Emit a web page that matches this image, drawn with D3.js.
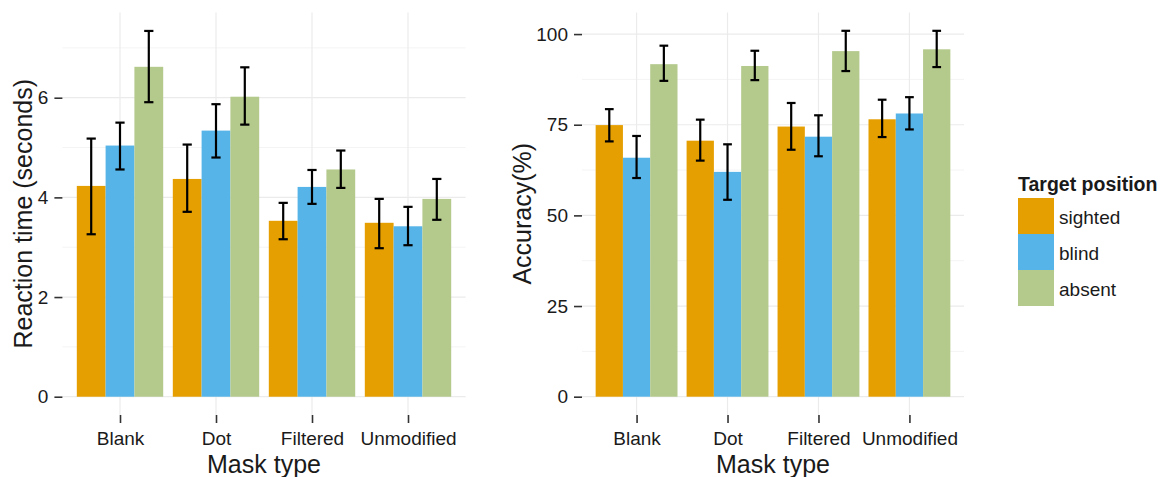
<!DOCTYPE html>
<html>
<head>
<meta charset="utf-8">
<script src="https://cdn.jsdelivr.net/npm/d3@7"></script>
<style>
  html, body { margin: 0; padding: 0; background: #fff; }
  svg { display: block; font-family: "Liberation Sans", Arial, sans-serif; }
</style>
</head>
<body>
<svg id="chart" width="1169" height="477"></svg>
<script>
// Mask types on the x axis and target positions as grouped series
const maskTypes = ["Blank", "Dot", "Filtered", "Unmodified"];
const positions = ["sighted", "blind", "absent"];
const positionColors = ["#E69F00", "#56B4E9", "#B4C98C"];

// Reaction time (seconds): means and error-bar bounds, per position, per mask type
const rtMean  = { sighted: [4.23, 4.37, 3.53, 3.49], blind: [5.04, 5.34, 4.21, 3.42], absent: [6.62, 6.02, 4.56, 3.97] };
const rtLow   = { sighted: [3.26, 3.71, 3.16, 2.98], blind: [4.56, 4.80, 3.87, 3.04], absent: [5.91, 5.46, 4.19, 3.55] };
const rtHigh  = { sighted: [5.18, 5.06, 3.89, 3.97], blind: [5.50, 5.87, 4.55, 3.81], absent: [7.34, 6.61, 4.94, 4.37] };
const rtTicks = [0, 2, 4, 6];

// Accuracy (%): means and error-bar bounds
const accMean = { sighted: [74.9, 70.6, 74.5, 76.5], blind: [65.9, 62.0, 71.7, 78.1], absent: [91.7, 91.2, 95.3, 95.8] };
const accLow  = { sighted: [70.4, 65.1, 68.1, 71.6], blind: [60.3, 54.3, 66.3, 73.7], absent: [87.1, 87.3, 89.8, 90.9] };
const accHigh = { sighted: [79.3, 76.4, 81.0, 81.9], blind: [71.9, 69.6, 77.6, 82.6], absent: [96.8, 95.4, 100.9, 100.9] };
const accTicks = [0, 25, 50, 75, 100];

const svg = d3.select("#chart");
const gridMajor = "#ebebeb", gridMinor = "#f4f4f4", ink = "#1a1a1a";

function panel(opts) {
  const { left, right, top, bottom, domain, ticks, minor, mean, low, high, title, titleX } = opts;
  const g = svg.append("g");

  // discrete x with ggplot-style 0.6 expansion on each side
  const n = maskTypes.length;
  const step = (right - left) / (n - 1 + 1.2);
  const x = d3.scalePoint().domain(maskTypes).range([left + 0.6 * step, right - 0.6 * step]);
  const dodge = d3.scaleBand().domain(positions).range([-0.45 * step, 0.45 * step]);
  const y = d3.scaleLinear().domain(domain).range([bottom, top]);

  // grid
  g.selectAll(".minor").data(minor).join("line")
    .attr("x1", left).attr("x2", right)
    .attr("y1", d => y(d)).attr("y2", d => y(d))
    .attr("stroke", gridMinor).attr("stroke-width", 1);
  g.selectAll(".major").data(ticks).join("line")
    .attr("x1", left).attr("x2", right)
    .attr("y1", d => y(d)).attr("y2", d => y(d))
    .attr("stroke", gridMajor).attr("stroke-width", 1.2);
  g.selectAll(".vgrid").data(maskTypes).join("line")
    .attr("x1", d => x(d)).attr("x2", d => x(d))
    .attr("y1", top).attr("y2", bottom)
    .attr("stroke", gridMajor).attr("stroke-width", 1.2);

  // bars
  const rows = [];
  positions.forEach((p, pi) => maskTypes.forEach((m, mi) => rows.push({
    m, p, pi, v: mean[p][mi], lo: low[p][mi], hi: high[p][mi]
  })));
  g.selectAll(".bar").data(rows).join("rect")
    .attr("x", d => x(d.m) + dodge(d.p))
    .attr("width", dodge.bandwidth())
    .attr("y", d => y(d.v))
    .attr("height", d => y(0) - y(d.v))
    .attr("fill", d => positionColors[d.pi]);

  // error bars
  const capHalf = dodge.bandwidth() * 0.16;
  const eb = g.selectAll(".eb").data(rows).join("g")
    .attr("transform", d => `translate(${x(d.m) + dodge(d.p) + dodge.bandwidth() / 2},0)`);
  eb.append("line").attr("x1", 0).attr("x2", 0)
    .attr("y1", d => y(d.lo)).attr("y2", d => y(d.hi))
    .attr("stroke", "#000").attr("stroke-width", 2.2);
  eb.append("line").attr("x1", -capHalf).attr("x2", capHalf)
    .attr("y1", d => y(d.hi)).attr("y2", d => y(d.hi))
    .attr("stroke", "#000").attr("stroke-width", 2.2);
  eb.append("line").attr("x1", -capHalf).attr("x2", capHalf)
    .attr("y1", d => y(d.lo)).attr("y2", d => y(d.lo))
    .attr("stroke", "#000").attr("stroke-width", 2.2);

  // y axis
  const ya = g.append("g").attr("transform", `translate(${left},0)`)
    .call(d3.axisLeft(y).tickValues(ticks).tickSize(8).tickPadding(6));
  ya.select(".domain").remove();
  ya.selectAll(".tick line").attr("stroke", "#333").attr("stroke-width", 1.6);
  ya.selectAll(".tick text").attr("fill", ink).style("font-size", "19px")
    .style("font-family", "'Liberation Sans', Arial, sans-serif");

  // x axis
  const xa = g.append("g").attr("transform", `translate(0,${bottom})`)
    .call(d3.axisBottom(x).tickSize(8).tickPadding(9));
  xa.select(".domain").remove();
  xa.selectAll(".tick line").attr("stroke", "#333").attr("stroke-width", 1.6);
  xa.selectAll(".tick text").attr("fill", ink).style("font-size", "19px")
    .style("font-family", "'Liberation Sans', Arial, sans-serif");

  // titles
  g.append("text").attr("x", (left + right) / 2).attr("y", 473)
    .attr("text-anchor", "middle").attr("fill", ink).style("font-size", "25px")
    .text("Mask type");
  g.append("text")
    .attr("transform", `translate(${titleX},${(top + bottom) / 2}) rotate(-90)`)
    .attr("text-anchor", "middle").attr("fill", ink).style("font-size", "25px")
    .text(title);
}

panel({
  left: 62.4, right: 465.6, top: 12.5, bottom: 415,
  domain: [-0.367, 7.71], ticks: rtTicks, minor: [1, 3, 5, 7],
  mean: rtMean, low: rtLow, high: rtHigh,
  title: "Reaction time (seconds)", titleX: 32
});

panel({
  left: 582, right: 964, top: 12.5, bottom: 415,
  domain: [-5.05, 105.95], ticks: accTicks, minor: [12.5, 37.5, 62.5, 87.5],
  mean: accMean, low: accLow, high: accHigh,
  title: "Accuracy(%)", titleX: 531
});

// legend
const lg = svg.append("g").attr("transform", "translate(1018,0)");
lg.append("text").attr("x", 0).attr("y", 191).attr("fill", ink)
  .style("font-size", "19.5px").style("font-weight", "bold").text("Target position");
positions.forEach((p, i) => {
  lg.append("rect").attr("x", 0).attr("y", 198 + i * 36).attr("width", 36).attr("height", 36)
    .attr("fill", positionColors[i]);
  lg.append("text").attr("x", 41).attr("y", 198 + i * 36 + 26).attr("fill", ink)
    .style("font-size", "19px").text(p);
});
</script>
</body>
</html>
